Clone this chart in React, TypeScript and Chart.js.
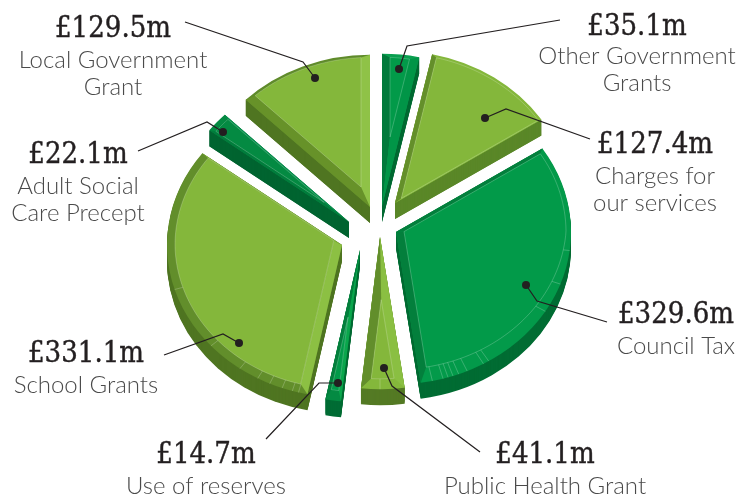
import React, { useEffect, useRef } from "react";
import { Chart, registerables } from "chart.js";

Chart.register(...registerables);

const categories = ["Other Government Grants", "Charges for our services", "Council Tax", "Public Health Grant", "Use of reserves", "School Grants", "Adult Social Care Precept", "Local Government Grant"];
const values = [35.1, 127.4, 329.6, 41.1, 14.7, 331.1, 22.1, 129.5];
const labelLines = [["Other Government", "Grants"], ["Charges for", "our services"], ["Council Tax"], ["Public Health Grant"], ["Use of reserves"], ["School Grants"], ["Adult Social", "Care Precept"], ["Local Government", "Grant"]];

const G = "#029a49", L = "#84b73b";
// top-face look: tip, face, rim, start strip, end strip, side, widths, rim facets (degrees)
const looks = [
  { tip: [382, 206], face: G, rim: "#0a9f50", a: "#017a3b", b: "#019547", side: "#016c33", wa: 8, wb: 9, wt: 4, wr: 4, f: [] as number[] },
  { tip: [395, 203], face: L, rim: "#84b73b", a: "#648f2a", b: "#84b73b", side: "#5a8728", wa: 5, wb: 1, wt: 3, wr: 3, f: [] },
  { tip: [396, 232], face: G, rim: "#039a4a", a: "#037f3c", b: "#037f3c", side: "#016c33", wa: 4, wb: 8, wt: 5, wr: 17, f: [78, 74.4, 72.7, 71, 69, 66, 60, 58, 31.4, 20, 7] },
  { tip: [380, 237], face: L, rim: "#84b73b", a: "#8abf42", b: "#628e2b", side: "#547a24", wa: 9, wb: 9, wt: 12, wr: 12, f: [90] },
  { tip: [360, 250], face: G, rim: "#048a42", a: "#0aa64c", b: "#037f3c", side: "#006c34", wa: 3.5, wb: 3.5, wt: 12, wr: 12, f: [] },
  { tip: [342, 245], face: L, rim: "#628e2b", a: "#8cc043", b: "#84b73b", side: "#4f7521", wa: 9, wb: 1, wt: 8, wr: 10, f: [163, 138.5, 125.7, 118.8, 114.4, 110, 106.5, 104.4] },
  { tip: [349, 222], face: "#048a42", rim: "#048a42", a: "#017d3c", b: "#0a9050", side: "#006430", wa: 3, wb: 1.5, wt: 6, wr: 6, f: [] },
  { tip: [370, 207], face: L, rim: "#5f8b2a", a: "#679229", b: "#8fc247", side: "#4f7521", wa: 10, wb: 9, wt: 3, wr: 3, f: [] },
];

const labelPos = [[637, 35, 64], [655, 153, 184], [676, 323, 354], [545, 463, 494], [206, 463, 494], [86, 362, 393], [78, 163, 194], [113, 37, 68]];
const leaders = [
  [[560, 20], [407, 46], [399, 69]],
  [[590, 139], [506, 109], [485, 118]],
  [[607, 322], [537, 301], [526, 285]],
  [[480, 452], [392, 386], [384, 368]],
  [[266, 439], [319, 383], [338, 383]],
  [[164, 355], [223, 334], [239, 343]],
  [[138, 151], [207, 122], [223, 132]],
  [[185, 22], [303, 62], [315, 78]],
];

const SY = 0.87;
const DEPTH = 16;

function wedge(ctx: CanvasRenderingContext2D, a0: number, a1: number, r: number) {
  ctx.beginPath();
  ctx.moveTo(0, 0);
  ctx.arc(0, 0, r, a0, a1);
  ctx.closePath();
}

const pie3d = {
  id: "pie3d",
  beforeDatasetDraw(chart: any) {
    const ctx: CanvasRenderingContext2D = chart.ctx;
    const arcs = chart.getDatasetMeta(0).data;
    arcs.forEach((arc: any, i: number) => {
      const k = looks[i];
      ctx.fillStyle = k.side;
      // the walls under both straight edges
      [arc.startAngle, arc.endAngle].forEach((edge: number) => {
        const ex = k.tip[0] + arc.outerRadius * Math.cos(edge);
        const ey = k.tip[1] + arc.outerRadius * SY * Math.sin(edge);
        ctx.beginPath();
        ctx.moveTo(k.tip[0], k.tip[1]);
        ctx.lineTo(ex, ey);
        ctx.lineTo(ex, ey + DEPTH);
        ctx.lineTo(k.tip[0], k.tip[1] + DEPTH);
        ctx.closePath();
        ctx.fill();
      });
      for (let d = DEPTH; d >= 1; d--) {
        ctx.save();
        ctx.translate(k.tip[0], k.tip[1] + d);
        ctx.scale(1, SY);
        wedge(ctx, arc.startAngle, arc.endAngle, arc.outerRadius);
        ctx.fill();
        ctx.restore();
      }
    });
    arcs.forEach((arc: any, i: number) => {
      const k = looks[i];
      const a0 = arc.startAngle, a1 = arc.endAngle, r = arc.outerRadius;
      const span = a1 - a0;
      const Rof = (th: number) => r - (k.wt + (k.wr - k.wt) * Math.max(0, Math.sin(th)));
      ctx.save();
      ctx.translate(k.tip[0], k.tip[1]);
      ctx.scale(1, SY);
      ctx.translate(-arc.x, -arc.y);
      arc.draw(ctx);
      ctx.translate(arc.x, arc.y);

      const t = Math.atan2(k.wa * Math.sin(span), k.wb + k.wa * Math.cos(span));
      const rho = Math.sqrt(k.wa * k.wa + k.wb * k.wb + 2 * k.wa * k.wb * Math.cos(span)) / Math.sin(span);
      const px = rho * Math.cos(a0 + t), py = rho * Math.sin(a0 + t);
      const i0 = a0 + Math.asin(k.wa / Rof(a0)), i1 = a1 - Math.asin(k.wb / Rof(a1));
      const strip = (edge: number, inner: number, col: string) => {
        const R = Rof(inner);
        ctx.beginPath();
        ctx.moveTo(0, 0);
        ctx.lineTo(r * Math.cos(edge), r * Math.sin(edge));
        ctx.lineTo(R * Math.cos(inner), R * Math.sin(inner));
        ctx.lineTo(px, py);
        ctx.closePath();
        ctx.fillStyle = col;
        ctx.fill();
      };
      strip(a0, i0, k.a);
      strip(a1, i1, k.b);
      ctx.beginPath();
      ctx.moveTo(px, py);
      const steps = 60;
      for (let s = 0; s <= steps; s++) {
        const th = i0 + ((i1 - i0) * s) / steps;
        const R = Rof(th);
        ctx.lineTo(R * Math.cos(th), R * Math.sin(th));
      }
      ctx.closePath();
      ctx.fillStyle = k.face;
      ctx.fill();
      ctx.strokeStyle = "rgba(255,255,255,0.33)";
      ctx.lineWidth = 0.7;
      ctx.stroke();
      // small facet lines across the rim
      k.f.forEach((deg) => {
        const th = (deg * Math.PI) / 180;
        const R = Rof(th);
        ctx.beginPath();
        ctx.moveTo(R * Math.cos(th), R * Math.sin(th));
        ctx.lineTo(r * Math.cos(th), r * Math.sin(th));
        ctx.stroke();
      });
      ctx.restore();
    });
    return false;
  },
  afterDatasetsDraw(chart: any) {
    const ctx: CanvasRenderingContext2D = chart.ctx;
    ctx.save();
    ctx.strokeStyle = "#231f20";
    ctx.fillStyle = "#231f20";
    ctx.lineWidth = 1.2;
    leaders.forEach((l) => {
      ctx.beginPath();
      l.forEach((p, j) => (j ? ctx.lineTo(p[0], p[1]) : ctx.moveTo(p[0], p[1])));
      ctx.stroke();
      ctx.beginPath();
      ctx.arc(l[2][0], l[2][1], 4, 0, Math.PI * 2);
      ctx.fill();
    });
    ctx.textAlign = "center";
    ctx.textBaseline = "alphabetic";
    values.forEach((v, i) => {
      const [x, y0, y1] = labelPos[i];
      ctx.fillStyle = "#231f20";
      ctx.strokeStyle = "#231f20";
      ctx.lineWidth = 0.4;
      ctx.font = '29px "DejaVu Serif Condensed", "DejaVu Serif", serif';
      ctx.fillText(`£${v.toFixed(1)}m`, x, y0);
      ctx.strokeText(`£${v.toFixed(1)}m`, x, y0);
      ctx.fillStyle = "#4a4a4a";
      ctx.font = '300 24px Lato, sans-serif';
      labelLines[i].forEach((t, j) => ctx.fillText(t, x, y1 + j * 27));
    });
    ctx.restore();
  },
};

export default function App() {
  const ref = useRef<HTMLCanvasElement>(null);
  useEffect(() => {
    document.body.style.margin = "0";
    const chart = new Chart(ref.current!, {
      type: "pie",
      data: {
        labels: categories,
        datasets: [{
          data: values,
          backgroundColor: looks.map((k) => k.rim),
          borderWidth: 0,
          radius: 175,
        }],
      },
      options: {
        animation: false,
        responsive: false,
        rotation: 0,
        plugins: { legend: { display: false }, tooltip: { enabled: false } },
      },
      plugins: [pie3d],
    } as any);
    return () => chart.destroy();
  }, []);
  return <canvas ref={ref} width={740} height={497} style={{ display: "block" }} />;
}
